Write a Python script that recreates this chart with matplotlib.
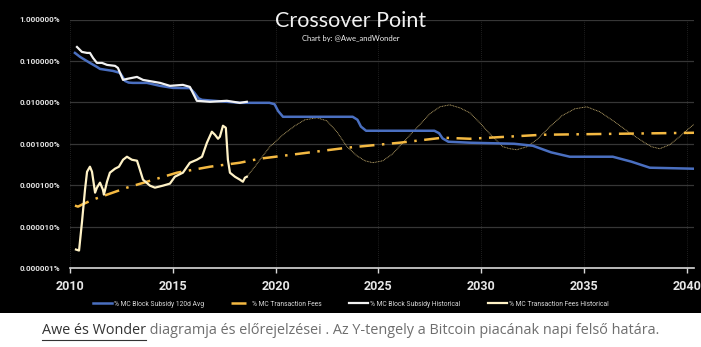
import matplotlib
matplotlib.use('Agg')
import matplotlib.pyplot as plt
from matplotlib.patches import Rectangle
from matplotlib.lines import Line2D
from matplotlib.ticker import FuncFormatter, NullLocator
import numpy as np

# 数据（从图上读取，单位：% of market cap）
subsidy_avg_years = [2010.24, 2010.49, 2010.97, 2011.31, 2011.46, 2012.09, 2012.43, 2012.55, 2012.67, 2012.85,
                     2013.06, 2013.74, 2014.38, 2015.01, 2015.83, 2016.05, 2016.25, 2016.42, 2017.63, 2018.26,
                     2019.70, 2019.95, 2020.12, 2020.36, 2023.75, 2023.98, 2024.15, 2024.40, 2027.72, 2027.95,
                     2028.12, 2028.40, 2029.45, 2031.60, 2032.51, 2033.40, 2034.31, 2036.40, 2037.30, 2038.20,
                     2040.29]
subsidy_avg = [0.156, 0.125, 0.0895, 0.0716, 0.0641, 0.0574, 0.0514, 0.0420, 0.0330, 0.0300,
               0.0295, 0.0295, 0.0250, 0.0223, 0.0220, 0.0170, 0.0125, 0.0115, 0.0103, 0.00973,
               0.00973, 0.00900, 0.00620, 0.00448, 0.00448, 0.00380, 0.00260, 0.00206, 0.00206, 0.00180,
               0.00135, 0.00112, 0.00106, 0.00100, 0.000895, 0.000620, 0.000486, 0.000486, 0.000370, 0.000264,
               0.000250]

fees_model_years = [2010.24, 2010.39, 2010.58, 2011.12, 2012.77, 2013.74, 2015.20, 2016.81, 2018.26,
                    2019.24, 2023.47, 2026.04, 2028.13, 2029.45, 2033.00, 2040.35]
fees_model = [0.0000321, 0.0000303, 0.0000339, 0.0000448, 0.0000871, 0.000121, 0.000200, 0.000279, 0.000348,
              0.000436, 0.000801, 0.00106, 0.00140, 0.00132, 0.00165, 0.00184]

subsidy_hist_years = [2010.34, 2010.58, 2010.83, 2010.97, 2011.12, 2011.31, 2011.56, 2011.80, 2012.19,
                      2012.33, 2012.58, 2012.77, 2013.26, 2013.55, 2014.38, 2014.86, 2015.49, 2015.83,
                      2016.17, 2016.81, 2017.63, 2018.26, 2018.60]
subsidy_hist = [0.217, 0.165, 0.156, 0.156, 0.118, 0.0895, 0.0895, 0.0802, 0.0759,
                0.0678, 0.0348, 0.0368, 0.0411, 0.0348, 0.0295, 0.0250, 0.0264, 0.0236,
                0.0109, 0.0103, 0.0109, 0.00973, 0.0103]

fees_hist_years = [2010.29, 2010.44, 2010.58, 2010.73, 2010.83, 2010.97, 2011.07, 2011.22, 2011.31,
                   2011.46, 2011.60, 2011.65, 2011.80, 2011.94, 2012.19, 2012.38, 2012.58, 2012.77,
                   2013.01, 2013.26, 2013.40, 2013.55, 2013.89, 2014.13, 2014.52, 2014.86, 2015.10,
                   2015.49, 2015.83, 2016.17, 2016.42, 2016.66, 2016.90, 2017.05, 2017.20, 2017.29,
                   2017.44, 2017.58, 2017.68, 2017.78, 2018.02, 2018.26, 2018.41, 2018.51, 2018.60]
fees_hist = [0.00000279, 0.00000264, 0.0000125, 0.0000780, 0.000211, 0.000279, 0.000211, 0.0000659, 0.0000871,
             0.000115, 0.0000780, 0.0000590, 0.000121, 0.000200, 0.000250, 0.000279, 0.000411, 0.000486,
             0.000411, 0.000389, 0.000236, 0.000136, 0.0000973, 0.0000871, 0.0000973, 0.000109, 0.000160,
             0.000200, 0.000348, 0.000411, 0.000486, 0.00106, 0.00195, 0.00165, 0.00132, 0.00148,
             0.00272, 0.00243, 0.000411, 0.000200, 0.000160, 0.000136, 0.000121, 0.000152, 0.000160]

fees_proj_years = [2018.60, 2018.99, 2019.24, 2019.72, 2020.36, 2020.94, 2021.42, 2022.01, 2022.49,
                   2022.98, 2023.47, 2023.95, 2024.34, 2024.73, 2025.22, 2025.70, 2026.19, 2026.87,
                   2027.50, 2027.99, 2028.47, 2028.96, 2029.45, 2029.93, 2030.42, 2031.05, 2031.39,
                   2031.73, 2032.22, 2032.70, 2033.34, 2033.92, 2034.55, 2035.13, 2035.77, 2036.49,
                   2037.22, 2037.95, 2038.29, 2038.68, 2039.17, 2039.65, 2040.14, 2040.63]
fees_proj = [0.000160, 0.000279, 0.000411, 0.000847, 0.00165, 0.00272, 0.00378, 0.00424, 0.00358,
             0.00195, 0.000847, 0.000514, 0.000389, 0.000348, 0.000389, 0.000574, 0.00106, 0.00243,
             0.00528, 0.00780, 0.00871, 0.00737, 0.00558, 0.00321, 0.00174, 0.000847, 0.000759,
             0.000716, 0.000847, 0.00125, 0.00257, 0.00473, 0.00697, 0.00780, 0.00590, 0.00339,
             0.00184, 0.00106, 0.000847, 0.000759, 0.000946, 0.00148, 0.00243, 0.00378]

y_ticks = [1e-6, 1e-5, 1e-4, 1e-3, 1e-2, 1e-1, 1]
x_ticks = [2010, 2015, 2020, 2025, 2030, 2035, 2040]
labels = ['% MC Block Subsidy 120d Avg', '% MC Transaction Fees',
          '% MC Block Subsidy Historical', '% MC Transaction Fees Historical']

plt.rcParams['font.family'] = ['Roboto', 'DejaVu Sans']

fig = plt.figure(figsize=(7.01, 3.47), dpi=100, facecolor='white')
# 黑色背景区域
fig.patches.append(Rectangle((0, 34 / 347), 1, 1 - 34 / 347, transform=fig.transFigure,
                             facecolor='black', edgecolor='none', zorder=-10))
ax = fig.add_axes([70 / 701, 79 / 347, 624 / 701, 248.5 / 347])
ax.set_facecolor('black')

ax.plot(fees_proj_years, fees_proj, color='#c4ad70', lw=0.65, ls=(0, (1, 0.8)), zorder=2)
ax.plot(subsidy_avg_years, subsidy_avg, color='#4a6fc0', lw=1.8, label=labels[0], zorder=3,
        solid_joinstyle='round')
ax.plot(fees_model_years, fees_model, color='#f4b942', lw=1.8, ls=(0, (6, 3, 1, 3)), label=labels[1], zorder=4)
ax.plot(subsidy_hist_years, subsidy_hist, color='#f2f2f2', lw=1.6, label=labels[2], zorder=5)
ax.plot(fees_hist_years, fees_hist, color='#fff2c6', lw=1.6, label=labels[3], zorder=5)

ax.set_yscale('log')
ax.set_ylim(1e-6, 1)
ax.set_xlim(2010, 2040.35)
ax.set_yticks(y_ticks)
ax.yaxis.set_minor_locator(NullLocator())
ax.yaxis.set_major_formatter(FuncFormatter(lambda v, p: f'{v:.6f}%'))
ax.set_xticks(x_ticks)

ax.grid(axis='y', color='#363636', lw=0.9)
ax.grid(axis='x', color='#2a2a2a', lw=0.6, ls=(0, (1, 1.5)))
for s in ['top', 'right', 'left']:
    ax.spines[s].set_visible(False)
ax.spines['bottom'].set_color('#d9d9d9')
ax.spines['bottom'].set_linewidth(1.2)
ax.tick_params(axis='y', length=0, pad=7, labelsize=5.8, labelcolor='#e6e6e6')
ax.tick_params(axis='x', length=3.5, width=1, color='#d9d9d9', pad=5, labelsize=9, labelcolor='#e6e6e6')
for lab in ax.get_xticklabels() + ax.get_yticklabels():
    lab.set_fontweight('bold')

fig.text(0.5, 1 - 27 / 347, 'Crossover Point', ha='center', va='baseline', color='#f2f2f2',
         fontsize=15.5, family=['Lato', 'DejaVu Sans'])
fig.text(0.5, 1 - 39 / 347, 'Chart by: @Awe_andWonder', ha='center', va='center', color='#f2f2f2',
         fontsize=5.5, family=['Lato', 'DejaVu Sans'])

leg = ax.legend(loc='center', bbox_to_anchor=(0.5, 1 - 304 / 347), bbox_transform=fig.transFigure,
                ncol=4, frameon=False, fontsize=4.9, labelcolor='#d9d9d9', handlelength=2.8,
                handletextpad=0.3, columnspacing=4.0)

# 底部说明文字
cap_font = dict(fontsize=10.4, family=['Open Sans', 'DejaVu Sans'], va='center')
cy = 1 - 331 / 347
t1 = fig.text(0, cy, 'Awe és Wonder', color='#333333', **cap_font)
t2 = fig.text(0, cy, ' diagramja és előrejelzései . Az Y-tengely a Bitcoin piacának napi felső határa.',
              color='#6e6e6e', **cap_font)
fig.canvas.draw()
r = fig.canvas.get_renderer()
w1 = t1.get_window_extent(r).width
w2 = t2.get_window_extent(r).width
W = fig.bbox.width
x0 = (W - w1 - w2) / 2
t1.set_x(x0 / W)
t2.set_x((x0 + w1) / W)
fig.canvas.draw()
e1 = t1.get_window_extent(r)
fig.add_artist(Line2D([e1.x0 / W, e1.x1 / W], [(e1.y0 - 1) / fig.bbox.height] * 2,
                      transform=fig.transFigure, color='#333333', lw=0.8))

fig.savefig('out.png', dpi=100, facecolor='white')
